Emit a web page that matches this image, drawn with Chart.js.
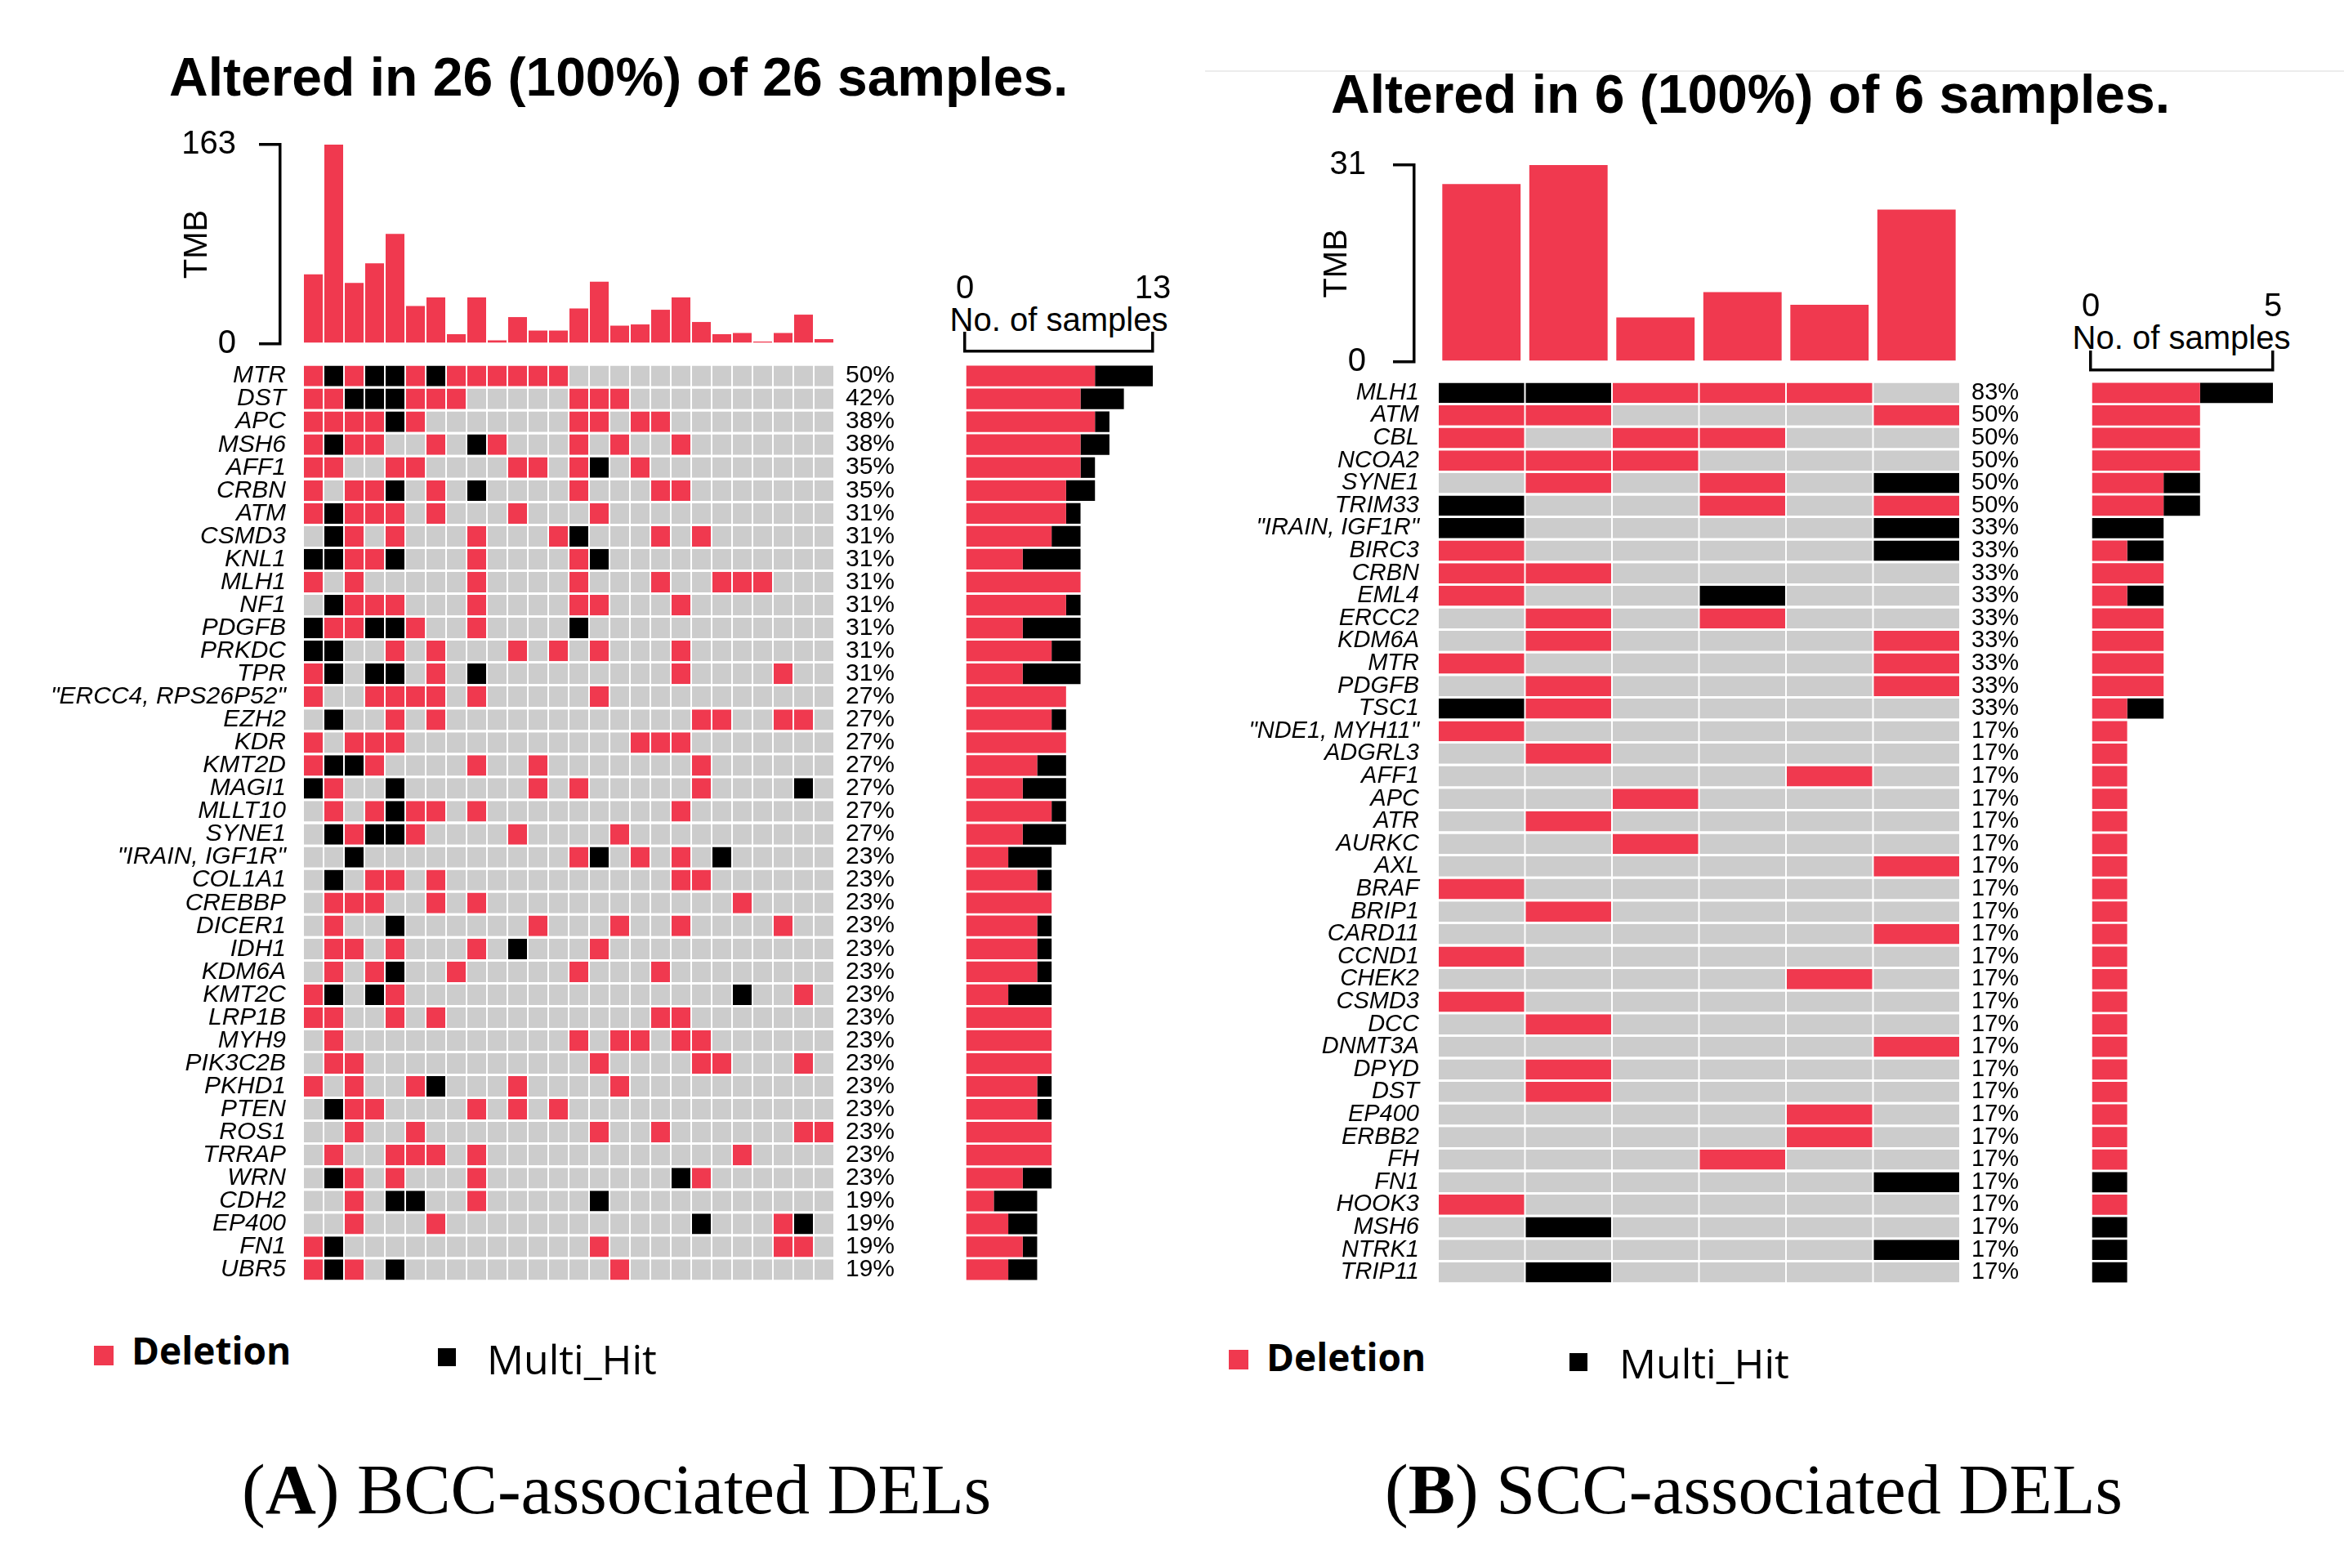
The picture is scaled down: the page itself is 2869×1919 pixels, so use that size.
<!DOCTYPE html>
<html>
<head>
<meta charset="utf-8">
<script src="https://cdn.jsdelivr.net/npm/chart.js@4.4.1/dist/chart.umd.min.js"></script>
<style>
html,body{margin:0;padding:0;background:#fff;}
#page{position:relative;width:2869px;height:1919px;overflow:hidden;background:#fff;}
canvas{position:absolute;}
.t{position:absolute;white-space:nowrap;line-height:1;color:#000;}
.sans{font-family:'Liberation Sans',Arial,sans-serif;}
.leg{font-family:'Open Sans','Liberation Sans',sans-serif;}
.cap{font-family:'Liberation Serif','Times New Roman',serif;font-size:86px;}
.sq{position:absolute;}
</style>
</head>
<body>
<div id="page">
  <div class="t sans" style="left:207px;top:61px;font-size:66px;font-weight:bold;">Altered in 26 (100%) of 26 samples.</div>
  <div class="t sans" style="left:1629px;top:82px;font-size:66px;font-weight:bold;">Altered in 6 (100%) of 6 samples.</div>
  <div style="position:absolute;left:1475px;top:86px;width:1394px;height:2px;background:#ececec;"></div>

  <div class="t sans" style="left:1096px;width:400px;text-align:center;top:371px;font-size:40px;">No. of samples</div>
  <div class="t sans" style="left:2470px;width:400px;text-align:center;top:393px;font-size:40px;">No. of samples</div>

  <canvas id="tmbA" width="1021" height="310" style="left:0px;top:140px;"></canvas>
  <canvas id="matA" width="1130" height="1122" style="left:0px;top:446px;"></canvas>
  <canvas id="sideA" width="350" height="1268" style="left:1100px;top:300px;"></canvas>

  <canvas id="tmbB" width="949" height="300" style="left:1450px;top:170px;"></canvas>
  <canvas id="matB" width="1030" height="1104" style="left:1450px;top:467px;"></canvas>
  <canvas id="sideB" width="380" height="1251" style="left:2480px;top:320px;"></canvas>

  <div class="sq" style="left:115px;top:1647px;width:24px;height:24px;background:#f0394f;"></div>
  <div class="t leg" style="left:161px;top:1629px;font-size:46px;font-weight:bold;">Deletion</div>
  <div class="sq" style="left:536px;top:1650px;width:22px;height:22px;background:#000;"></div>
  <div class="t leg" style="left:596px;top:1638px;font-size:50px;">Multi_Hit</div>

  <div class="sq" style="left:1504px;top:1652px;width:24px;height:24px;background:#f0394f;"></div>
  <div class="t leg" style="left:1550px;top:1637px;font-size:46px;font-weight:bold;">Deletion</div>
  <div class="sq" style="left:1921px;top:1656px;width:22px;height:22px;background:#000;"></div>
  <div class="t leg" style="left:1982px;top:1643px;font-size:50px;">Multi_Hit</div>

  <div class="t cap" style="left:296px;top:1780px;">(<b>A</b>) BCC-associated DELs</div>
  <div class="t cap" style="left:1695px;top:1780px;">(<b>B</b>) SCC-associated DELs</div>
</div>
<script>
// ---------------- data ----------------
const samplesA = ['S01','S02','S03','S04','S05','S06','S07','S08','S09','S10','S11','S12','S13',
                  'S14','S15','S16','S17','S18','S19','S20','S21','S22','S23','S24','S25','S26'];
const tmbA = [57, 163, 50, 66, 90, 31, 38, 8, 38, 3, 22, 11, 11, 29, 51, 15, 16, 28, 38, 18, 8, 9, 2, 9, 24, 4];
const tmbMaxA = 163;

const genesA = ['MTR','DST','APC','MSH6','AFF1','CRBN','ATM','CSMD3','KNL1','MLH1','NF1','PDGFB','PRKDC','TPR',
  '"ERCC4, RPS26P52"','EZH2','KDR','KMT2D','MAGI1','MLLT10','SYNE1','"IRAIN, IGF1R"','COL1A1','CREBBP','DICER1',
  'IDH1','KDM6A','KMT2C','LRP1B','MYH9','PIK3C2B','PKHD1','PTEN','ROS1','TRRAP','WRN','CDH2','EP400','FN1','UBR5'];
const pctA = ['50%','42%','38%','38%','35%','35%','31%','31%','31%','31%','31%','31%','31%','31%',
  '27%','27%','27%','27%','27%','27%','27%','23%','23%','23%','23%','23%','23%','23%','23%','23%','23%','23%',
  '23%','23%','23%','23%','19%','19%','19%','19%'];
// D = Deletion, M = Multi_Hit, . = none   (one character per sample)
const mafA = [
  'DMDMMDMDDDDDD.............',
  'DDMMMDDD.....DDD..........',
  'DDDDMD.......DD.DD........',
  'DMDD..D.MD...D.D..D.......',
  'DD..DD....DD.DM.D.........',
  'D.DDM.D.M....D...DD.......',
  'DMDDD.D...D...D...........',
  '.MD.D...D...DM...D.D......',
  'MMDDM...D....DM...........',
  'D.D.....D....D...D..DDD...',
  '.MDDD...D....DD...D.......',
  'MDDMMD..D....M............',
  'MM..D.D...D.D.D...D.......',
  'DM.MM.D.M.........D....D..',
  'D..DDDD.D.....D...........',
  '.M..D.D............DD..DD.',
  'D.DDD...........DDD.......',
  'DMMD....D..D.......D......',
  'MD..M......D.D.....D....M.',
  '.D.DMDD.D.........D.......',
  '.MDMMD....D....D..........',
  '..M..........DM.D.D.M.....',
  '.M.DD.D...........DD......',
  '.DDD..D.D............D....',
  '.D..M......D...D..D....D..',
  '.DD.D...D.M...D...........',
  '.D.DM..D.....D...D........',
  'DM.MD................M..D.',
  'DD..D.D..........DD.......',
  '.D...........D.DD.DD......',
  '.DD...........D....DD...D.',
  'D.D..DM...D....D..........',
  '.MDD....D.D.D.............',
  '..D..D........D..D......DD',
  '.D..DDD.D............D....',
  '.MD.D...D.........MD......',
  '..D.MM..D.....M...........',
  '..D...D............M...DM.',
  'DM............D........DD.',
  'DMD.M..........D..........'
];
const delA   = [9,8,9,8,8,7,7,6,4,8,7,4,6,4,7,6,7,5,4,6,4,3,5,6,5,5,5,3,6,6,6,5,5,6,6,4,2,3,4,3];
const multiA = [4,3,1,2,1,2,1,2,4,0,1,4,2,4,0,1,0,2,3,1,3,3,1,0,1,1,1,3,0,0,0,1,1,0,0,2,3,2,1,2];
const sideMaxA = 13;

const samplesB = ['P1','P2','P3','P4','P5','P6'];
const tmbB = [28, 31, 7, 11, 9, 24];
const tmbMaxB = 31;
const genesB = ['MLH1','ATM','CBL','NCOA2','SYNE1','TRIM33','"IRAIN, IGF1R"','BIRC3','CRBN','EML4','ERCC2','KDM6A',
  'MTR','PDGFB','TSC1','"NDE1, MYH11"','ADGRL3','AFF1','APC','ATR','AURKC','AXL','BRAF','BRIP1','CARD11','CCND1',
  'CHEK2','CSMD3','DCC','DNMT3A','DPYD','DST','EP400','ERBB2','FH','FN1','HOOK3','MSH6','NTRK1','TRIP11'];
const pctB = ['83%','50%','50%','50%','50%','50%','33%','33%','33%','33%','33%','33%','33%','33%','33%',
  '17%','17%','17%','17%','17%','17%','17%','17%','17%','17%','17%','17%','17%','17%','17%','17%','17%',
  '17%','17%','17%','17%','17%','17%','17%','17%'];
const mafB = ['MMDDD.','DD...D','D.DD..','DDD...','.D.D.M','M..D.D','M....M','D....M','DD....','D..M..',
  '.D.D..','.D...D','D....D','.D...D','MD....','D.....','.D....','....D.','..D...','.D....','..D...',
  '.....D','D.....','.D....','.....D','D.....','....D.','D.....','.D....','.....D','.D....','.D....',
  '....D.','....D.','...D..','.....M','D.....','.M....','.....M','.M....'];
const delB   = [3,3,3,3,2,2,0,1,2,1,2,2,2,2,1,1,1,1,1,1,1,1,1,1,1,1,1,1,1,1,1,1,1,1,1,0,1,0,0,0];
const multiB = [2,0,0,0,1,1,2,1,0,1,0,0,0,0,1,0,0,0,0,0,0,0,0,0,0,0,0,0,0,0,0,0,0,0,0,1,0,1,1,1];
const sideMaxB = 5;

// ---------------- style ----------------
const DEL = '#f0394f', MULTI = '#000000', BG = '#cccccc';
const colorOf = {D: DEL, M: MULTI, '.': BG};
Chart.defaults.font.family = "'Liberation Sans', Arial, sans-serif";
Chart.defaults.color = '#000';

const base = {
  responsive: false, animation: false, devicePixelRatio: 1, events: [],
  plugins: {legend: {display: false}, tooltip: {enabled: false}}
};
function zeroPad(s) { s.paddingTop = 0; s.paddingBottom = 0; s.paddingLeft = 0; s.paddingRight = 0; }

function tmbChart(id, labels, values, maxV, cfg) {
  new Chart(document.getElementById(id), {
    type: 'bar',
    data: {labels: labels, datasets: [{data: values, backgroundColor: DEL, borderWidth: 0,
      barPercentage: cfg.barPct, categoryPercentage: 1}]},
    options: Object.assign({}, base, {
      layout: {padding: {top: cfg.padTop, bottom: cfg.padBottom, left: 0, right: 0}},
      scales: {
        x: {display: false},
        y: {type: 'linear', position: 'left', weight: 2, min: 0, max: maxV,
          afterBuildTicks: s => { s.ticks = [{value: 0}, {value: maxV}]; },
          grid: {display: true, drawOnChartArea: false, drawTicks: true, tickLength: 26, color: '#000', lineWidth: 3.5},
          border: {display: true, color: '#000', width: 3.5},
          ticks: {padding: cfg.tickPad, font: {size: 40}, color: '#000'},
          title: {display: true, text: 'TMB', font: {size: 40}, color: '#000', padding: {top: cfg.titlePad, bottom: 0}},
          afterFit: s => { s.width = cfg.axisW; zeroPad(s); }},
        ypad: {type: 'linear', position: 'left', weight: 1, min: 0, max: 1,
          grid: {display: false}, border: {display: false}, ticks: {display: false},
          afterFit: s => { s.width = cfg.gapW; zeroPad(s); }}
      }
    })
  });
}

function matrixChart(id, genes, pcts, rows, cfg) {
  const n = rows[0].length;
  const datasets = [];
  for (let c = 0; c < n; c++) {
    datasets.push({
      data: genes.map(() => [c, c + 1]),
      backgroundColor: rows.map(r => colorOf[r[c]]),
      borderColor: '#ffffff', borderWidth: {left: 1, right: 1, top: 0, bottom: 0}, borderSkipped: false,
      grouped: false, barPercentage: 0.9, categoryPercentage: 1
    });
  }
  new Chart(document.getElementById(id), {
    type: 'bar',
    data: {labels: genes, datasets: datasets},
    options: Object.assign({}, base, {
      indexAxis: 'y',
      layout: {padding: 0},
      scales: {
        x: {type: 'linear', min: 0, max: n, display: false},
        y: {type: 'category', position: 'left', offset: true,
          grid: {display: false, drawTicks: false}, border: {display: false},
          ticks: {autoSkip: false, padding: cfg.padL, color: '#000',
            font: {size: cfg.font, style: 'italic'}},
          afterFit: s => { s.width = cfg.wL; zeroPad(s); }},
        y2: {type: 'category', position: 'right', labels: pcts, offset: true,
          grid: {display: false, drawTicks: false}, border: {display: false},
          ticks: {autoSkip: false, padding: cfg.padR, color: '#000', font: {size: cfg.font}},
          afterFit: s => { s.width = cfg.wR; zeroPad(s); }}
      }
    })
  });
}

function sideChart(id, genes, del, multi, maxN, cfg) {
  new Chart(document.getElementById(id), {
    type: 'bar',
    data: {labels: genes, datasets: [
      {label: 'Deletion', data: del, backgroundColor: DEL},
      {label: 'Multi_Hit', data: multi, backgroundColor: MULTI}
    ]},
    options: Object.assign({}, base, {
      indexAxis: 'y',
      datasets: {bar: {barPercentage: 0.9, categoryPercentage: 1, borderWidth: 0}},
      layout: {padding: {left: cfg.padL, right: cfg.padR, top: 0, bottom: 0}},
      scales: {
        y: {type: 'category', display: false, stacked: true, offset: true},
        x: {type: 'linear', position: 'top', weight: 2, min: 0, max: maxN, stacked: true,
          afterBuildTicks: s => { s.ticks = [{value: 0}, {value: maxN}]; },
          grid: {display: true, drawOnChartArea: false, drawTicks: true, tickLength: 24, color: '#000', lineWidth: 3.5},
          border: {display: true, color: '#000', width: 3.5},
          ticks: {padding: cfg.tickPad, font: {size: 40}, color: '#000', maxRotation: 0},
          afterFit: s => { s.height = cfg.axisH; zeroPad(s); }},
        xpad: {type: 'linear', axis: 'x', position: 'top', weight: 1, min: 0, max: 1,
          grid: {display: false}, border: {display: false}, ticks: {display: false},
          afterFit: s => { s.height = cfg.gapH; zeroPad(s); }}
      }
    })
  });
}

// Panel A
tmbChart('tmbA', samplesA, tmbA, tmbMaxA, {barPct: 0.92, padTop: 37, padBottom: 29, tickPad: 28, titlePad: 218, axisW: 343, gapW: 28});
matrixChart('matA', genesA, pctA, mafA, {padL: 21, wL: 371, padR: 14, wR: 109, font: 30});
sideChart('sideA', genesA, delA, multiA, sideMaxA, {padL: 81, padR: 39, tickPad: 28, axisH: 130, gapH: 16});

// Panel B
tmbChart('tmbB', samplesB, tmbB, tmbMaxB, {barPct: 0.9, padTop: 32, padBottom: 27, tickPad: 33, titlePad: 163, axisW: 281, gapW: 29});
matrixChart('matB', genesB, pctB, mafB, {padL: 23, wL: 310, padR: 14, wR: 81, font: 29});
sideChart('sideB', genesB, delB, multiB, sideMaxB, {padL: 79, padR: 78, tickPad: 29, axisH: 133, gapH: 14});
</script>
</body>
</html>
